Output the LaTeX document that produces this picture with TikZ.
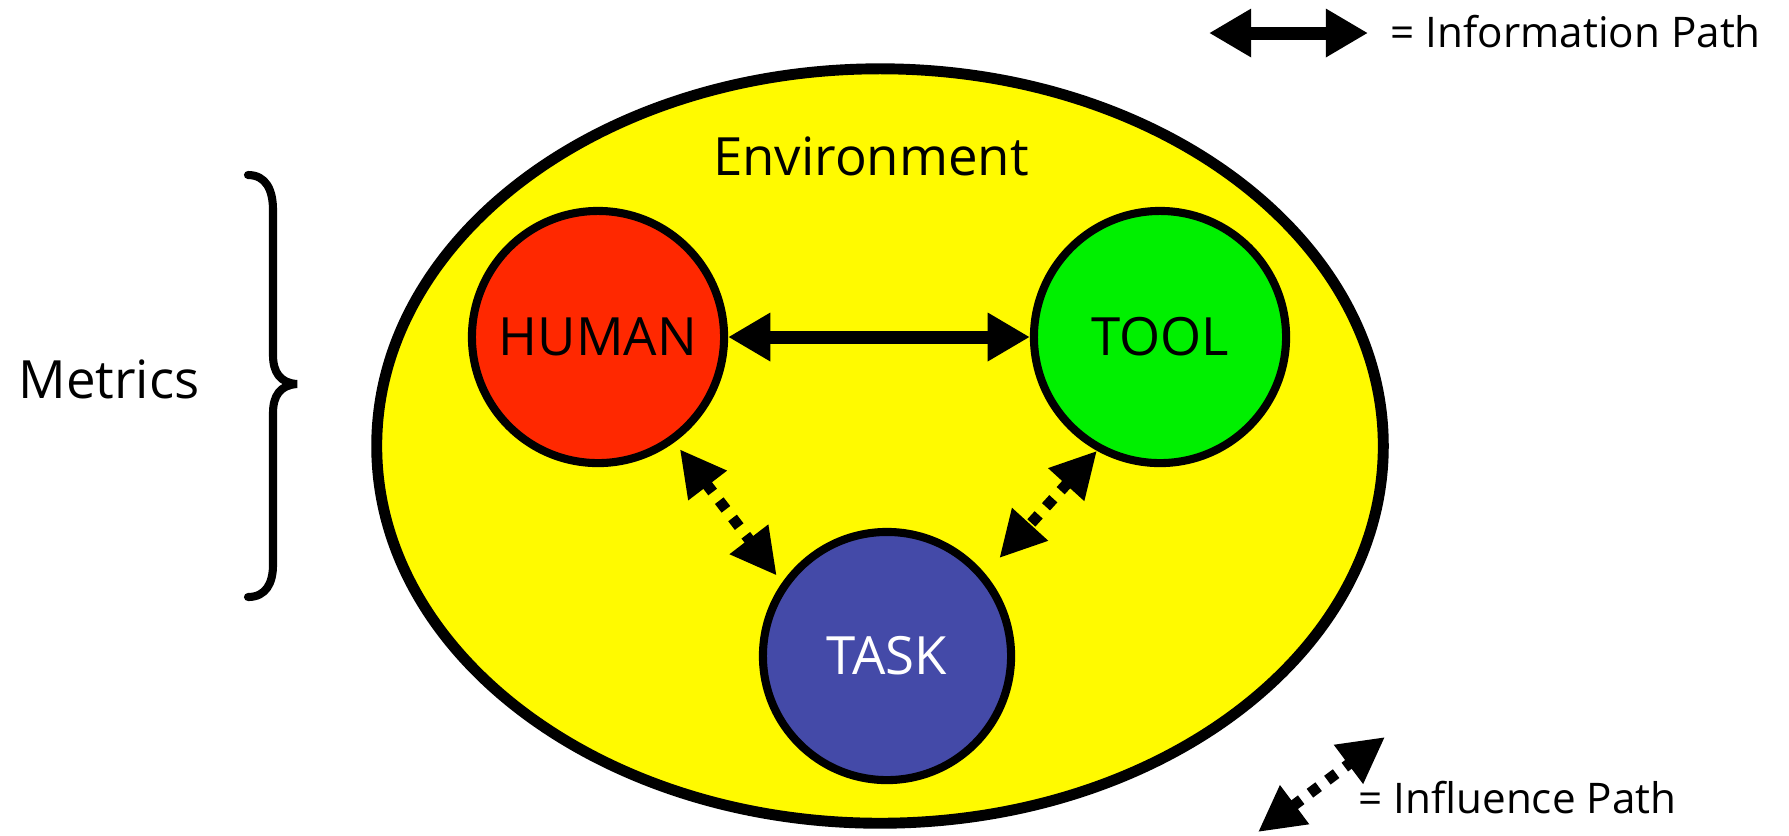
\documentclass[tikz,border=0pt]{standalone}
\usepackage{fontspec}
\setmainfont{Open Sans}
\usetikzlibrary{arrows.meta}

\definecolor{envyellow}{RGB}{255,250,0}
\definecolor{humanred}{RGB}{255,40,0}
\definecolor{toolgreen}{RGB}{0,240,0}
\definecolor{taskblue}{RGB}{68,74,168}

\tikzset{
    agent/.style={circle, draw, line width=2.3pt, minimum size=2.52cm, inner sep=0pt,
        font=\fontsize{15}{18}\selectfont},
    bigtext/.style={inner sep=0pt, font=\fontsize{15}{18}\selectfont},
    legendtext/.style={inner sep=0pt, font=\fontsize{12}{14}\selectfont},
    infopath/.style={line width=3.7pt,
        {Triangle[length=12pt,width=13pt]}-{Triangle[length=12pt,width=13pt]}},
    influencepath/.style={line width=3.1pt, dash pattern=on 3.1pt off 3.1pt,
        {Triangle[length=13pt,width=13pt]}-{Triangle[length=13pt,width=13pt]}},
}

\begin{document}
\begin{tikzpicture}[x=0.01cm, y=-0.01cm]

            \useasboundingbox (0,0) rectangle (1789,835);

            \draw[line width=3.1pt, fill=envyellow] (880,446) ellipse [x radius=5.03cm, y radius=3.77cm];
            \node[bigtext, anchor=base] (env) at (871,175) {Environment};

            \node[agent, fill=humanred] (human) at (598,337) {HUMAN};
            \node[agent, fill=toolgreen] (tool) at (1160,337) {TOOL};
            \node[agent, fill=taskblue, text=white, minimum size=2.48cm] (task) at (887,656) {TASK};

            \draw[infopath] (human) -- (tool);
            \draw[influencepath, shorten <=2.5pt, shorten >=2.5pt] (human.-54) -- (task.145);
            \draw[influencepath, shorten >=6pt] (tool.-119) -- (task.40);

            % metrics brace
            \draw[line width=2.3pt, line cap=round] (248,175) .. controls (266,175) and (273,190) .. (273,210)
                -- (273,355) .. controls (273,372) and (280,383) .. (297,384)
                .. controls (280,385) and (273,396) .. (273,413)
                -- (273,565) .. controls (273,583) and (266,597) .. (248,597);
            \node[bigtext, anchor=base] (metrics) at (109,398) {Metrics};

            % legend
            \coordinate (infoL) at (1209,33);
            \coordinate (infoR) at (1368,33);
            \draw[infopath] (infoL) -- (infoR);
            \node[legendtext, anchor=base west] (infolabel) at (1390,47) {= Information Path};

            \coordinate (inflL) at (1258,832);
            \coordinate (inflR) at (1385,737);
            \draw[influencepath] (inflL) -- (inflR);
            \node[legendtext, anchor=base west] (infllabel) at (1358,813) {= Influence Path};

\end{tikzpicture}
\end{document}
